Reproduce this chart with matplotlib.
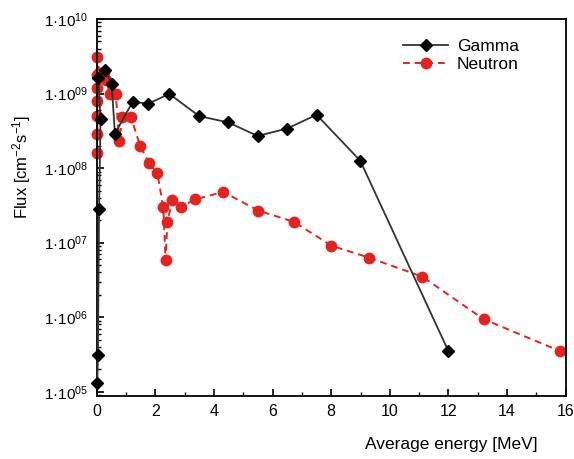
import math
import matplotlib
matplotlib.use("Agg")
import matplotlib.pyplot as plt
from matplotlib.ticker import FixedLocator, FuncFormatter, LogLocator, MultipleLocator, NullFormatter

plt.rcParams['font.family'] = ['Liberation Sans', 'DejaVu Sans']
plt.rcParams['mathtext.default'] = 'regular'

# average energy [MeV] and flux [cm^-2 s^-1]
gamma_e = [0.02, 0.04, 0.08, 0.13, 0.05, 0.28, 0.51, 0.62, 1.23, 1.75, 2.48,
           3.49, 4.49, 5.49, 6.50, 7.50, 8.99, 12.0]
gamma_flux = [1.3e5, 3.1e5, 2.8e7, 4.6e8, 1.6e9, 2.1e9, 1.35e9, 2.9e8, 7.8e8, 7.3e8, 9.9e8,
              5.0e8, 4.1e8, 2.7e8, 3.4e8, 5.2e8, 1.26e8, 3.5e5]

neutron_e = [0.02, 0.02, 0.02, 0.02, 0.02, 0.02, 0.02, 0.09, 0.25, 0.32, 0.45, 0.65,
             0.77, 0.87, 1.17, 1.48, 1.78, 2.07, 2.27, 2.35, 2.41, 2.58, 2.86,
             3.35, 4.32, 5.51, 6.73, 8.01, 9.29, 11.11, 13.2, 15.82]
neutron_flux = [1.6e8, 2.9e8, 5.0e8, 8.0e8, 1.2e9, 1.8e9, 3.1e9, 1.9e9, 1.9e9, 1.5e9, 1.0e9, 1.0e9,
                2.3e8, 4.9e8, 4.8e8, 2.0e8, 1.17e8, 8.5e7, 3.0e7, 5.8e6, 1.9e7, 3.7e7, 3.0e7,
                3.8e7, 4.8e7, 2.7e7, 1.9e7, 9.1e6, 6.3e6, 3.5e6, 9.4e5, 3.5e5]

fig = plt.figure(figsize=(5.74, 4.59), dpi=100)
ax = fig.add_axes([0.1685, 0.1375, 0.817, 0.821])

ax.plot(gamma_e, gamma_flux, color="#333333", lw=1.3, marker="D", ms=6.5,
        mfc="black", mec="black", label="Gamma", clip_on=False, zorder=3)
ax.plot(neutron_e, neutron_flux, color="#e3231f", lw=1.4, ls=(0, (3.5, 2.5)), marker="o", ms=7.5,
        mfc="#e3231f", mec="#e3231f", label="Neutron", clip_on=False, zorder=2)

ax.set_yscale("log")
ax.set_xlim(0, 16)
ax.set_ylim(8.8e4, 1e10)

ax.xaxis.set_major_locator(MultipleLocator(2))
ax.xaxis.set_minor_locator(MultipleLocator(1))
ax.yaxis.set_major_locator(FixedLocator([1e5, 1e6, 1e7, 1e8, 1e9, 1e10]))
ax.yaxis.set_minor_locator(LogLocator(base=10, subs=range(2, 10)))
ax.yaxis.set_minor_formatter(NullFormatter())


def fmt(v, pos):
    e = int(round(math.log10(v)))
    return "1·10$^{%02d}$" % e


ax.yaxis.set_major_formatter(FuncFormatter(fmt))

ax.tick_params(which="both", direction="in", top=False, right=False)
ax.tick_params(which="major", length=5, width=1.2, labelsize=11.5, pad=6)
ax.tick_params(which="minor", length=3, width=1)
ax.tick_params(axis="y", labelsize=11)
for s in ax.spines.values():
    s.set_linewidth(1.3)

ax.set_ylabel("Flux [cm$^{-2}$s$^{-1}$]", fontsize=12)
ax.yaxis.set_label_coords(-0.135, 0.607)
ax.set_xlabel("Average energy [MeV]", fontsize=12.5, ha="right")
ax.xaxis.set_label_coords(0.941, -0.108)

ax.legend(loc="upper left", bbox_to_anchor=(0.653, 0.948), frameon=False, fontsize=12.5,
          borderpad=0, borderaxespad=0, handlelength=2.6, handletextpad=0.5,
          labelspacing=0.2)

fig.savefig("out.png", dpi=100)
